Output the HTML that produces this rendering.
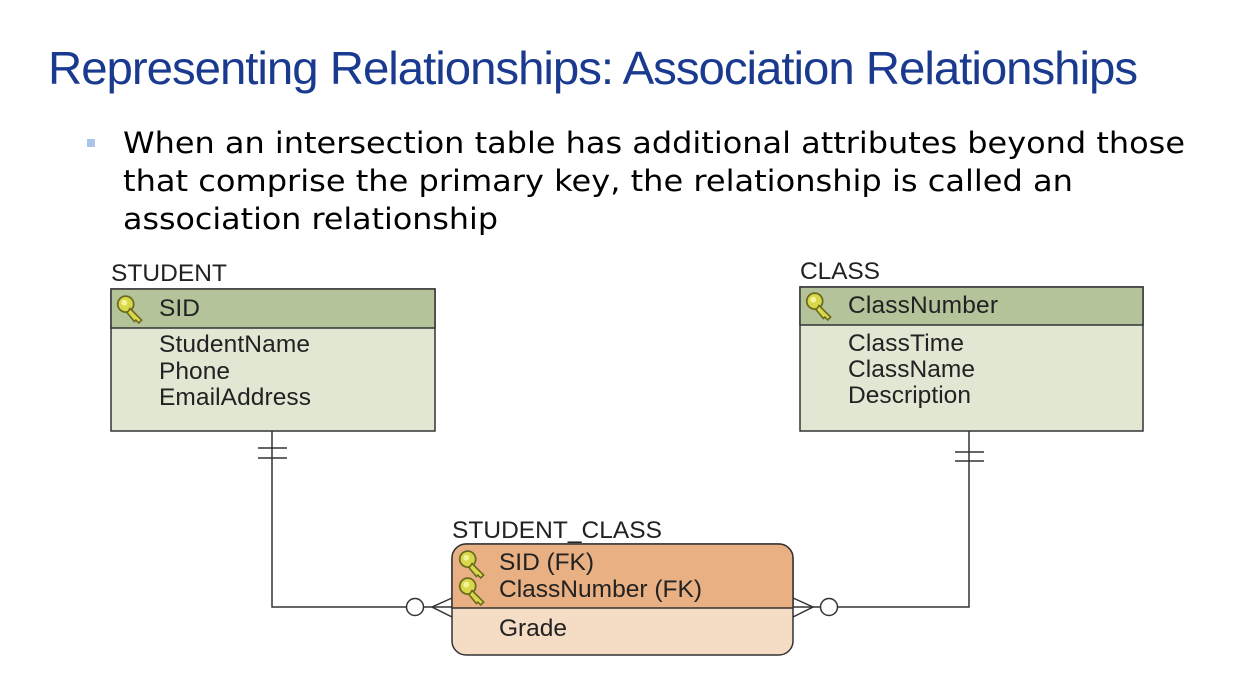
<!DOCTYPE html>
<html><head><meta charset="utf-8"><style>
html,body{margin:0;padding:0;background:#fff;}
svg{display:block;}
</style></head><body>
<svg width="1256" height="688" viewBox="0 0 1256 688" xmlns="http://www.w3.org/2000/svg">
<rect width="1256" height="688" fill="#fff"/>
<text x="48" y="84" font-family="Liberation Sans, sans-serif" font-size="46" fill="#1a3a90" textLength="1089" lengthAdjust="spacingAndGlyphs" letter-spacing="-1">Representing Relationships: Association Relationships</text>
<rect x="87" y="139" width="8" height="8" fill="#a9c6e8"/>
<g font-family="DejaVu Sans, sans-serif" font-size="29" fill="#000">
<text x="123" y="153" textLength="1062" lengthAdjust="spacingAndGlyphs">When an intersection table has additional attributes beyond those</text>
<text x="123" y="191" textLength="950" lengthAdjust="spacingAndGlyphs">that comprise the primary key, the relationship is called an</text>
<text x="123" y="229" textLength="375" lengthAdjust="spacingAndGlyphs">association relationship</text>
</g>
<defs>
<g id="key" transform="scale(1.45)">
<circle cx="6" cy="7" r="5.5" fill="#d8d84a" stroke="#6b6b20" stroke-width="1.2"/>
<circle cx="5" cy="6" r="2" fill="#f3f39a"/>
<path d="M9 10 L17 18 L15 20 L13 18 L12 19 L7 13 Z" fill="#d8d84a" stroke="#6b6b20" stroke-width="1.1"/>
</g>
</defs>
<g font-family="Liberation Sans, sans-serif" font-size="24.5" fill="#222" lengthAdjust="spacingAndGlyphs">
<text x="111" y="281" textLength="116">STUDENT</text>
<rect x="111" y="289" width="324" height="142" fill="#e2e7d4" stroke="#333" stroke-width="1.5"/>
<rect x="111" y="289" width="324" height="39" fill="#b4c39a" stroke="#333" stroke-width="1.5"/>
<use href="#key" x="117" y="294"/>
<text x="159" y="316" textLength="41">SID</text>
<text x="159" y="352" textLength="151">StudentName</text>
<text x="159" y="379" textLength="71">Phone</text>
<text x="159" y="405" textLength="152">EmailAddress</text>
<text x="800" y="279" textLength="80">CLASS</text>
<rect x="800" y="287" width="343" height="144" fill="#e2e7d4" stroke="#333" stroke-width="1.5"/>
<rect x="800" y="287" width="343" height="38" fill="#b4c39a" stroke="#333" stroke-width="1.5"/>
<use href="#key" x="806" y="291"/>
<text x="848" y="313" textLength="150">ClassNumber</text>
<text x="848" y="351" textLength="116">ClassTime</text>
<text x="848" y="377" textLength="127">ClassName</text>
<text x="848" y="403" textLength="123">Description</text>
<text x="452" y="538" textLength="210">STUDENT_CLASS</text>
<rect x="452" y="544" width="341" height="111" rx="14" fill="#f5dcc5" stroke="#333" stroke-width="1.5"/>
<path d="M452 608 V558 A14 14 0 0 1 466 544 H779 A14 14 0 0 1 793 558 V608 Z" fill="#e8b083" stroke="#333" stroke-width="1.5"/>
<use href="#key" x="459" y="549"/>
<use href="#key" x="459" y="576"/>
<text x="499" y="570" textLength="95">SID (FK)</text>
<text x="499" y="597" textLength="203">ClassNumber (FK)</text>
<text x="499" y="636" textLength="68">Grade</text>
</g>
<g stroke="#333" stroke-width="1.5" fill="none">
<path d="M272 431 V607 H452"/>
<path d="M258 448 H287 M258 458 H287"/>
<path d="M969 431 V607 H793"/>
<path d="M955 452 H984 M955 461 H984"/>
<circle cx="415" cy="607" r="8.5" fill="#fff"/>
<path d="M452 598 L432 607 L452 617"/>
<circle cx="829" cy="607" r="8.5" fill="#fff"/>
<path d="M793 598 L813 607 L793 617"/>
</g>
</svg>
</body></html>
